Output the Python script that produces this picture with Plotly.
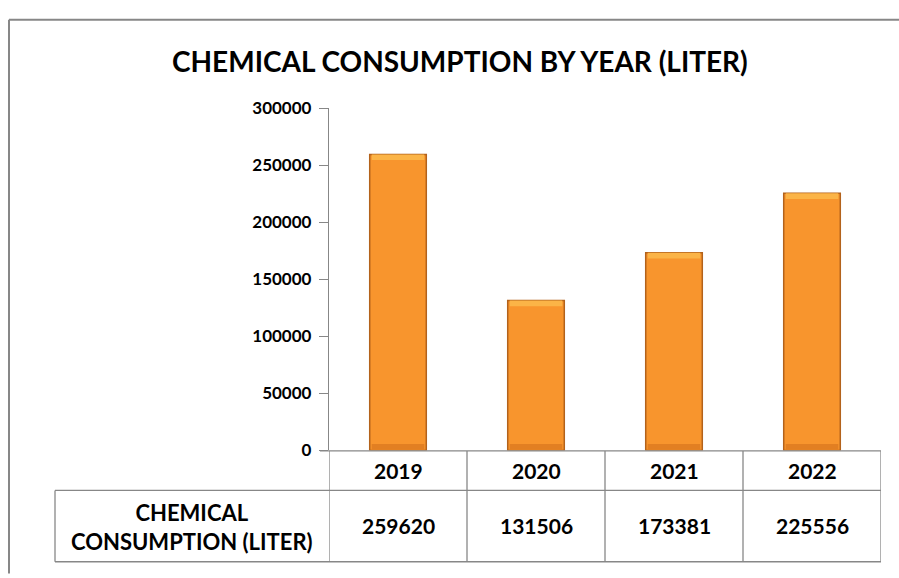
import plotly.graph_objects as go

years = ["2019", "2020", "2021", "2022"]
consumption = [259620, 131506, 173381, 225556]
y_ticks = [0, 50000, 100000, 150000, 200000, 250000, 300000]
title_text = "CHEMICAL CONSUMPTION BY YEAR (LITER)"
series_label = "CHEMICAL<br>CONSUMPTION (LITER)"

W, H = 899, 578
def px(x):
    return x / W
def py(y):
    return 1 - y / H

FONT = "Lato, 'Open Sans', sans-serif"
GRID = "#878787"
x_idx = list(range(len(years)))
BAR_W = 0.41
BEVEL = 5000  # bevel band height in data units (styling only)

fig = go.Figure()
fig.add_trace(go.Bar(
    x=x_idx, y=consumption,
    width=BAR_W,
    marker=dict(color="#F8952D", line=dict(color="#B3621B", width=1.5)),
    hoverinfo="x+y",
))
# bevel highlight at top of each bar and shade at the bottom (derived from the data)
fig.add_trace(go.Bar(
    x=x_idx, y=[BEVEL] * len(consumption), base=[v - BEVEL for v in consumption],
    width=BAR_W * 0.93,
    marker=dict(color="#FBB447", line=dict(width=0)),
    hoverinfo="skip",
))
fig.add_trace(go.Bar(
    x=x_idx, y=[BEVEL] * len(consumption), base=[600] * len(consumption),
    width=BAR_W * 0.93,
    marker=dict(color="#E27F22", line=dict(width=0)),
    hoverinfo="skip",
))

fig.update_layout(
    width=W, height=H,
    margin=dict(l=0, r=0, t=0, b=0),
    paper_bgcolor="white", plot_bgcolor="white",
    showlegend=False,
    barmode="overlay",
    xaxis=dict(
        domain=[px(329), px(881)],
        range=[-0.5, len(years) - 0.5],
        showticklabels=False, showgrid=False, zeroline=False,
        showline=False, ticks="",
    ),
    yaxis=dict(
        domain=[py(456), py(101)],
        range=[0, 300000],
        tickvals=y_ticks,
        ticktext=[str(v) for v in y_ticks],
        showgrid=False, zeroline=False,
        showline=True, linecolor=GRID, linewidth=1.3,
        ticks="outside", ticklen=9, tickcolor=GRID, tickwidth=1.3,
        tickfont=dict(family=FONT, size=17, color="black", weight="bold"),
        ticklabelstandoff=4,
    ),
)

shapes = []
# outer chart frame
shapes.append(dict(type="line", xref="paper", yref="paper", x0=px(9), x1=1.01, y0=py(9), y1=py(9),
                   line=dict(color=GRID, width=2)))
shapes.append(dict(type="line", xref="paper", yref="paper", x0=px(9), x1=px(9), y0=py(9), y1=-0.01,
                   line=dict(color=GRID, width=2)))
# x axis line / table top
shapes.append(dict(type="line", xref="paper", yref="paper", x0=px(320), x1=px(881), y0=py(456.5), y1=py(456.5),
                   line=dict(color=GRID, width=1.3)))
# table horizontal lines
shapes.append(dict(type="line", xref="paper", yref="paper", x0=px(55), x1=px(881), y0=py(497.5), y1=py(497.5),
                   line=dict(color=GRID, width=1.3)))
shapes.append(dict(type="line", xref="paper", yref="paper", x0=px(55), x1=px(881), y0=py(571.5), y1=py(571.5),
                   line=dict(color=GRID, width=1.3)))
# label cell left border
shapes.append(dict(type="line", xref="paper", yref="paper", x0=px(55), x1=px(55), y0=py(497.5), y1=py(571.5),
                   line=dict(color=GRID, width=1.3)))
# vertical column lines (category boundaries)
for i in range(len(years) + 1):
    shapes.append(dict(type="line", xref="x", yref="paper", x0=i - 0.5, x1=i - 0.5,
                       y0=py(456.5), y1=py(571.5), line=dict(color=GRID, width=1.3)))
fig.update_layout(shapes=shapes)

ann = []
ann.append(dict(text=title_text, xref="paper", yref="paper", x=px(460), y=py(52),
                showarrow=False, xanchor="center", yanchor="middle",
                font=dict(family=FONT, size=28, color="black", weight="bold")))
for i, (yr, v) in enumerate(zip(years, consumption)):
    ann.append(dict(text=yr, xref="x", yref="paper", x=i, y=py(477), showarrow=False,
                    xanchor="center", yanchor="middle",
                    font=dict(family=FONT, size=21, color="black", weight="bold")))
    ann.append(dict(text=str(v), xref="x", yref="paper", x=i, y=py(534), showarrow=False,
                    xanchor="center", yanchor="middle",
                    font=dict(family=FONT, size=21, color="black", weight="bold")))
ann.append(dict(text=series_label, xref="paper", yref="paper", x=px(192), y=py(535), showarrow=False,
                xanchor="center", yanchor="middle", align="center",
                font=dict(family=FONT, size=22, color="black", weight="bold")))
fig.update_layout(annotations=ann)

fig.write_html("out.html", config={"displayModeBar": False},
               post_script="document.body.style.margin='0px';document.body.style.overflow='hidden';")
